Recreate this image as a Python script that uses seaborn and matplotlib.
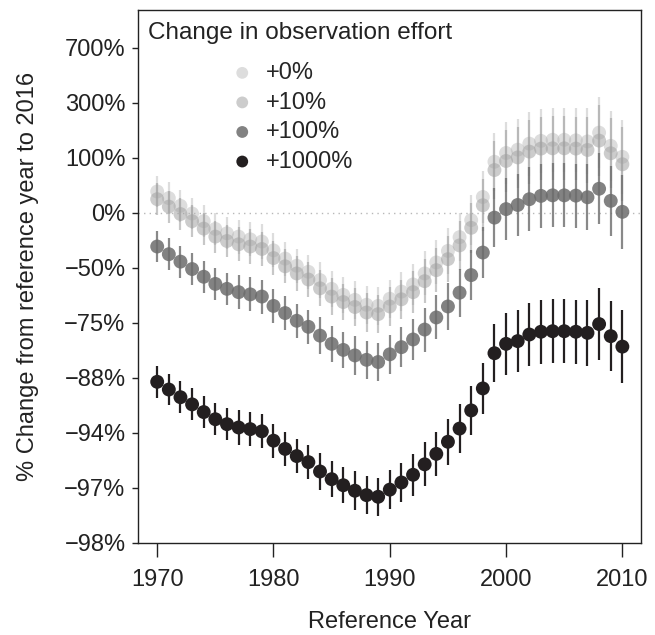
import matplotlib
matplotlib.use("Agg")
import numpy as np
import pandas as pd
import seaborn as sns
import matplotlib.pyplot as plt

# ---------------- data (log2 of ratio: 2016 value / reference-year value) ----------------
years = list(range(1970, 2011))
effort_labels = ["+0%", "+10%", "+100%", "+1000%"]

change_0 = [0.39, 0.27, 0.13, -0.01, -0.15, -0.29, -0.37, -0.43, -0.48, -0.52,
            -0.68, -0.83, -0.96, -1.07, -1.22, -1.38, -1.49, -1.58, -1.67, -1.69,
            -1.56, -1.43, -1.30, -1.10, -0.90, -0.69, -0.44, -0.13, 0.29, 0.93,
            1.09, 1.15, 1.26, 1.31, 1.33, 1.33, 1.32, 1.30, 1.46, 1.22, 1.02]
change_10 = [0.25, 0.115, -0.02, -0.15, -0.285, -0.43, -0.51, -0.57, -0.61, -0.655,
             -0.82, -0.97, -1.10, -1.21, -1.37, -1.52, -1.62, -1.71, -1.81, -1.84,
             -1.70, -1.57, -1.44, -1.24, -1.04, -0.84, -0.59, -0.27, 0.14, 0.78,
             0.945, 1.01, 1.115, 1.17, 1.175, 1.175, 1.17, 1.145, 1.315, 1.085, 0.885]
change_100 = [-0.61, -0.75, -0.885, -1.02, -1.16, -1.29, -1.38, -1.44, -1.48, -1.52,
              -1.69, -1.82, -1.96, -2.07, -2.23, -2.38, -2.49, -2.59, -2.67, -2.71,
              -2.57, -2.44, -2.30, -2.12, -1.90, -1.70, -1.45, -1.13, -0.72, -0.085,
              0.07, 0.145, 0.25, 0.31, 0.32, 0.32, 0.315, 0.285, 0.44, 0.22, 0.02]
change_1000 = [-3.07, -3.21, -3.35, -3.48, -3.62, -3.75, -3.84, -3.90, -3.93, -3.97,
               -4.14, -4.29, -4.42, -4.53, -4.70, -4.84, -4.95, -5.05, -5.13, -5.16,
               -5.03, -4.90, -4.76, -4.57, -4.38, -4.16, -3.92, -3.59, -3.19, -2.55,
               -2.38, -2.33, -2.21, -2.16, -2.15, -2.15, -2.16, -2.18, -2.02, -2.24, -2.43]
# half-width of the uncertainty bars (same log2 units)
err_half = [0.29, 0.29, 0.29, 0.29, 0.29, 0.29, 0.29, 0.31, 0.31, 0.31,
            0.31, 0.31, 0.31, 0.31, 0.33, 0.33, 0.33, 0.35, 0.35, 0.35,
            0.35, 0.36, 0.38, 0.40, 0.40, 0.42, 0.44, 0.45, 0.47, 0.53,
            0.56, 0.56, 0.58, 0.58, 0.58, 0.58, 0.58, 0.60, 0.65, 0.64, 0.67]

ytick_vals = [-6, -5, -4, -3, -2, -1, 0, 1, 2, 3]
ytick_labels = ["\u221298%", "\u221297%", "\u221294%", "\u221288%", "\u221275%",
                "\u221250%", "0%", "100%", "300%", "700%"]
xtick_vals = [1970, 1980, 1990, 2000, 2010]

series = {"+0%": change_0, "+10%": change_10, "+100%": change_100, "+1000%": change_1000}
frames = []
for lab in effort_labels:
    frames.append(pd.DataFrame({"year": years, "change": series[lab],
                                "err": err_half, "effort": lab}))
df = pd.concat(frames, ignore_index=True)

styles = {
    "+0%":    dict(color="#b4b4b4", alpha=0.45, ecolor="#b4b4b4", ealpha=0.45),
    "+10%":   dict(color="#a2a2a2", alpha=0.55, ecolor="#9a9a9a", ealpha=0.55),
    "+100%":  dict(color="#6c6c6c", alpha=0.85, ecolor="#6c6c6c", ealpha=0.8),
    "+1000%": dict(color="#231f20", alpha=1.0, ecolor="#231f20", ealpha=1.0),
}

# ---------------- plotting ----------------
sns.set_theme(style="white")
plt.rcParams["font.family"] = ["Liberation Sans", "DejaVu Sans"]

fig = plt.figure(figsize=(6.55, 6.35), dpi=100)
ax = fig.add_axes([0.2107, 0.1449, 0.7679, 0.8394])

ax.axhline(0, color="#b8b8b8", lw=1.0, ls=(0, (1, 3)), zorder=0)

z = 2
for lab in effort_labels:
    d = df[df["effort"] == lab]
    st = styles[lab]
    ax.vlines(d["year"], d["change"] - d["err"], d["change"] + d["err"],
              color=st["ecolor"], alpha=st["ealpha"], lw=1.6, zorder=z)
    sns.scatterplot(data=d, x="year", y="change", ax=ax, color=st["color"],
                    alpha=st["alpha"], s=100, edgecolor="none", linewidth=0,
                    label=lab, zorder=z + 1)
    z += 2

ax.set_xlim(1968.35, 2011.6)
ax.set_ylim(-6, 3.69)
ax.set_xticks(xtick_vals)
ax.set_xticklabels([str(v) for v in xtick_vals])
ax.set_yticks(ytick_vals)
ax.set_yticklabels(ytick_labels)

for sp in ax.spines.values():
    sp.set_visible(True)
    sp.set_color("#222222")
    sp.set_linewidth(1.0)

ax.tick_params(axis="x", which="major", direction="out", length=10, width=1.0,
               color="#222222", labelsize=17, pad=9, bottom=True)
ax.tick_params(axis="y", which="major", direction="out", length=4, width=1.0,
               color="#222222", labelsize=17, pad=5, left=True)
for t in ax.get_xticklabels() + ax.get_yticklabels():
    t.set_color("#222222")

ax.set_xlabel("Reference Year", fontsize=17, color="#222222", labelpad=14)
ax.set_ylabel("% Change from reference year to 2016", fontsize=17,
              color="#222222", labelpad=18)

handles, labels = ax.get_legend_handles_labels()
leg = ax.legend(handles, labels, loc="upper left", bbox_to_anchor=(0.165, 0.92),
                frameon=False, fontsize=17, handlelength=1.0, handletextpad=0.5,
                labelspacing=0.32, borderaxespad=0, markerscale=0.85)
ax.text(0.02, 0.978, "Change in observation effort", transform=ax.transAxes,
        ha="left", va="top", fontsize=17.5, color="#222222")

fig.savefig("out.png", dpi=100)
